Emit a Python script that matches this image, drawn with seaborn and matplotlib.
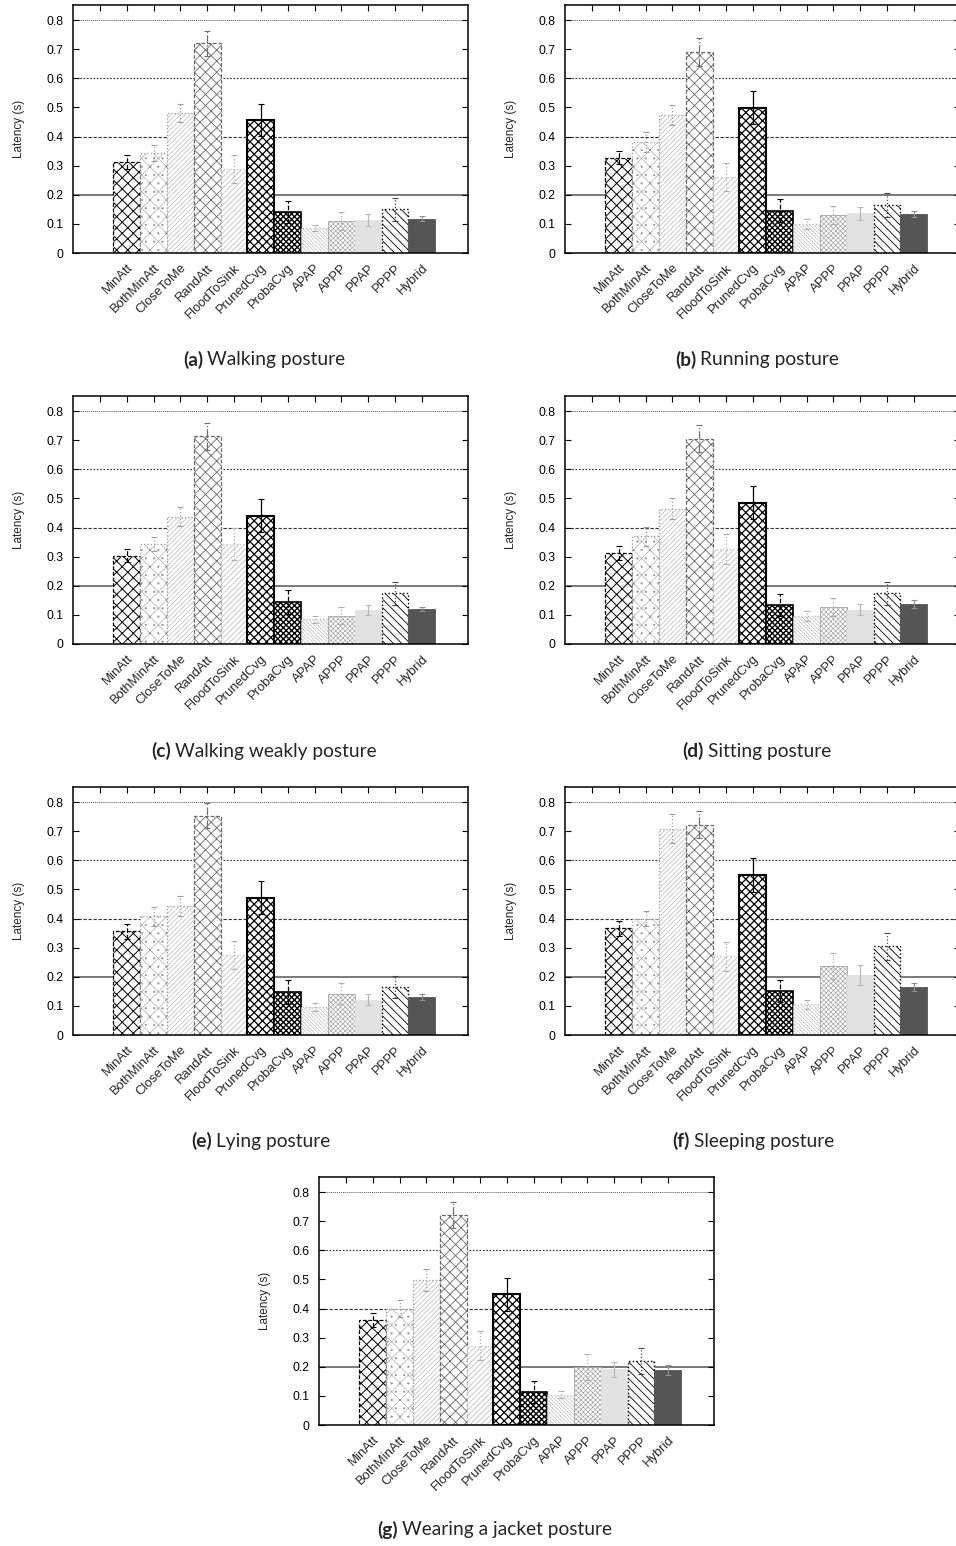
import numpy as np
import pandas as pd
import matplotlib
matplotlib.use('Agg')
import matplotlib.pyplot as plt
import matplotlib.transforms as mtransforms
import seaborn as sns

# DATA
METHODS = ['MinAtt', 'BothMinAtt', 'CloseToMe', 'RandAtt', 'FloodToSink', 'PrunedCvg',
           'ProbaCvg', 'APAP', 'APPP', 'PPAP', 'PPPP', 'Hybrid']

walking = [0.312, 0.343, 0.480, 0.721, 0.290, 0.458, 0.142, 0.085, 0.111, 0.114, 0.150, 0.118]
walking_err = [0.023, 0.027, 0.031, 0.043, 0.048, 0.055, 0.038, 0.010, 0.031, 0.020, 0.039, 0.008]

running = [0.328, 0.381, 0.474, 0.690, 0.261, 0.499, 0.146, 0.100, 0.130, 0.136, 0.164, 0.135]
running_err = [0.023, 0.033, 0.035, 0.047, 0.049, 0.057, 0.039, 0.017, 0.032, 0.022, 0.041, 0.011]

walking_weakly = [0.304, 0.343, 0.438, 0.713, 0.343, 0.441, 0.144, 0.085, 0.097, 0.117, 0.174, 0.120]
walking_weakly_err = [0.021, 0.025, 0.031, 0.047, 0.056, 0.057, 0.041, 0.012, 0.030, 0.017, 0.040, 0.008]

sitting = [0.312, 0.370, 0.465, 0.705, 0.326, 0.486, 0.133, 0.096, 0.126, 0.117, 0.174, 0.137]
sitting_err = [0.024, 0.032, 0.035, 0.046, 0.051, 0.056, 0.038, 0.016, 0.031, 0.019, 0.040, 0.014]

lying = [0.356, 0.408, 0.442, 0.754, 0.275, 0.472, 0.148, 0.096, 0.141, 0.121, 0.164, 0.131]
lying_err = [0.027, 0.032, 0.034, 0.044, 0.048, 0.056, 0.040, 0.014, 0.036, 0.019, 0.038, 0.011]

sleeping = [0.366, 0.400, 0.709, 0.722, 0.270, 0.549, 0.150, 0.105, 0.236, 0.206, 0.305, 0.165]
sleeping_err = [0.026, 0.026, 0.050, 0.046, 0.049, 0.058, 0.038, 0.014, 0.044, 0.035, 0.047, 0.014]

jacket = [0.360, 0.400, 0.499, 0.721, 0.272, 0.449, 0.112, 0.104, 0.199, 0.191, 0.219, 0.189]
jacket_err = [0.024, 0.030, 0.037, 0.045, 0.050, 0.056, 0.038, 0.012, 0.044, 0.027, 0.045, 0.018]

PANELS = [
    ('(a)', 'Walking posture', walking, walking_err),
    ('(b)', 'Running posture', running, running_err),
    ('(c)', 'Walking weakly posture', walking_weakly, walking_weakly_err),
    ('(d)', 'Sitting posture', sitting, sitting_err),
    ('(e)', 'Lying posture', lying, lying_err),
    ('(f)', 'Sleeping posture', sleeping, sleeping_err),
    ('(g)', 'Wearing a jacket posture', jacket, jacket_err),
]

YTICKS = [0, 0.1, 0.2, 0.3, 0.4, 0.5, 0.6, 0.7, 0.8]

# bar look, one per method (gnuplot-like patterns)
STYLES = [
    dict(fc='white', ec='black', hatch='xxx', ls=(0, (3, 1.5)), lw=0.9, hlw=0.7),
    dict(fc='white', ec='#9a9a9a', hatch='xx..', ls=':', lw=0.9, hlw=0.4),
    dict(fc='white', ec='#9c9c9c', hatch='///////', ls=':', lw=0.9, hlw=0.35),
    dict(fc='white', ec='#6a6a6a', hatch='xxx', ls=(0, (3, 1.5)), lw=0.9, hlw=0.6),
    dict(fc='white', ec='#c0c0c0', hatch='//////', ls=':', lw=0.9, hlw=0.6),
    dict(fc='white', ec='black', hatch='xxxx', ls='-', lw=1.5, hlw=0.9),
    dict(fc='white', ec='black', hatch='xxxxxx', ls='-', lw=1.2, hlw=1.0),
    dict(fc='white', ec='#bdbdbd', hatch='\\\\\\\\\\\\\\\\\\', ls=':', lw=0.9, hlw=0.5),
    dict(fc='white', ec='#a5a5a5', hatch='xxxxxxx', ls='-', lw=0.6, hlw=0.5),
    dict(fc='#e2e2e2', ec='#e2e2e2', hatch='', ls='-', lw=0.6, hlw=0.5),
    dict(fc='white', ec='black', hatch='\\\\\\\\', ls=':', lw=1.0, hlw=0.6),
    dict(fc='#555555', ec='#555555', hatch='', ls='-', lw=0.6, hlw=0.5),
]
ERR_COLORS = ['black', '#a0a0a0', '#a0a0a0', '#707070', '#b0b0b0', 'black',
              'black', '#b0b0b0', '#b0b0b0', '#b8b8b8', '#444444', '#909090']
ERR_STYLES = ['--', ':', ':', '-.', ':', '-', '--', ':', ':', '-', ':', '-']

W, H = 956, 1546
# axes boxes in pixels: left, top
BOXES = [(73, 5), (565, 5), (73, 396), (565, 396), (73, 787), (565, 787), (319, 1177)]
AX_W, AX_H = 395, 248
CAPTIONS_XY = [(264, 360), (757, 360), (264, 751), (757, 751), (261, 1141), (753, 1141), (495, 1530)]

sns.set_theme(style='white')
plt.rcParams['font.family'] = ['Liberation Sans', 'DejaVu Sans']
plt.rcParams['hatch.linewidth'] = 0.6

fig = plt.figure(figsize=(W / 100, H / 100), dpi=100)


def draw_panel(ax, values, errs):
    df = pd.DataFrame({'method': METHODS, 'latency': values})
    sns.barplot(data=df, x='method', y='latency', ax=ax, width=1.0, color='white',
                saturation=1, errorbar=None, zorder=2)
    for p, st in zip(ax.patches, STYLES):
        p.set_facecolor(st['fc'])
        p.set_edgecolor(st['ec'])
        p.set_hatch(st['hatch'])
        p.set_linestyle(st['ls'])
        p.set_linewidth(st['lw'])
        if hasattr(p, 'set_hatch_linewidth'):
            p.set_hatch_linewidth(st['hlw'])
    for i in range(len(METHODS)):
        eb = ax.errorbar(i, values[i], yerr=errs[i], fmt='none', ecolor=ERR_COLORS[i],
                         elinewidth=0.9, capsize=2, capthick=0.8, zorder=4)
        eb[2][0].set_linestyle(ERR_STYLES[i])

    # gnuplot style horizontal guides
    ax.axhline(0.2, color='#555555', lw=1.1, ls='-', zorder=0.5)
    ax.axhline(0.4, color='#333333', lw=0.8, ls=(0, (3, 1.5)), zorder=0.5)
    ax.axhline(0.6, color='#333333', lw=0.8, ls=(0, (1.5, 1.5)), zorder=0.5)
    ax.axhline(0.8, color='#555555', lw=0.7, ls=(0, (1, 1)), zorder=0.5)

    ax.set_xlim(-2.0, 12.72)
    ax.set_ylim(0, 0.852)
    ax.set_yticks(YTICKS)
    ax.set_yticklabels([f'{v:g}' for v in YTICKS])
    ax.tick_params(axis='y', direction='in', length=4, width=0.8, left=True, right=True,
                   labelsize=8.7, pad=7, colors='black')
    ax.set_xticks(range(len(METHODS)))
    ax.set_xticklabels(METHODS, rotation=45, ha='right', va='center',
                       rotation_mode='anchor', fontsize=9.4)
    ax.tick_params(axis='x', length=0, pad=8)
    shift = mtransforms.ScaledTranslation(4 / 100, -2 / 100, fig.dpi_scale_trans)
    for lbl in ax.get_xticklabels():
        lbl.set_transform(lbl.get_transform() + shift)
    # top ticks
    sec = ax.secondary_xaxis('top')
    sec.set_xticks(range(-1, len(METHODS)))
    sec.tick_params(direction='in', length=4, width=0.8, labeltop=False, colors='black')
    sec.spines['top'].set_visible(False)
    for s in ax.spines.values():
        s.set_color('black')
        s.set_linewidth(1.1)
        s.set_visible(True)
    ax.set_xlabel('')
    ax.set_ylabel('Latency (s)', fontsize=8.5)
    ax.yaxis.set_label_coords(-48 / AX_W, 0.5)


for (left, top), (tag, title, vals, errs) in zip(BOXES, PANELS):
    ax = fig.add_axes([left / W, 1 - (top + AX_H) / H, AX_W / W, AX_H / H])
    draw_panel(ax, vals, errs)

# captions: bold tag + regular text, centred
fig.canvas.draw()
renderer = fig.canvas.get_renderer()
for (xc, yc), (tag, title, _, _) in zip(CAPTIONS_XY, PANELS):
    t1 = fig.text(0, 1 - yc / H, tag, fontweight='bold', fontsize=13.8,
                  family=['Lato', 'DejaVu Sans'], ha='left', va='center')
    t2 = fig.text(0, 1 - yc / H, title, fontsize=13.8,
                  family=['Lato', 'DejaVu Sans'], ha='left', va='center')
    w1 = t1.get_window_extent(renderer).width
    w2 = t2.get_window_extent(renderer).width
    gap = 4
    x0 = xc - (w1 + gap + w2) / 2
    t1.set_x(x0 / W)
    t2.set_x((x0 + w1 + gap) / W)

fig.savefig('out.png', dpi=100)
